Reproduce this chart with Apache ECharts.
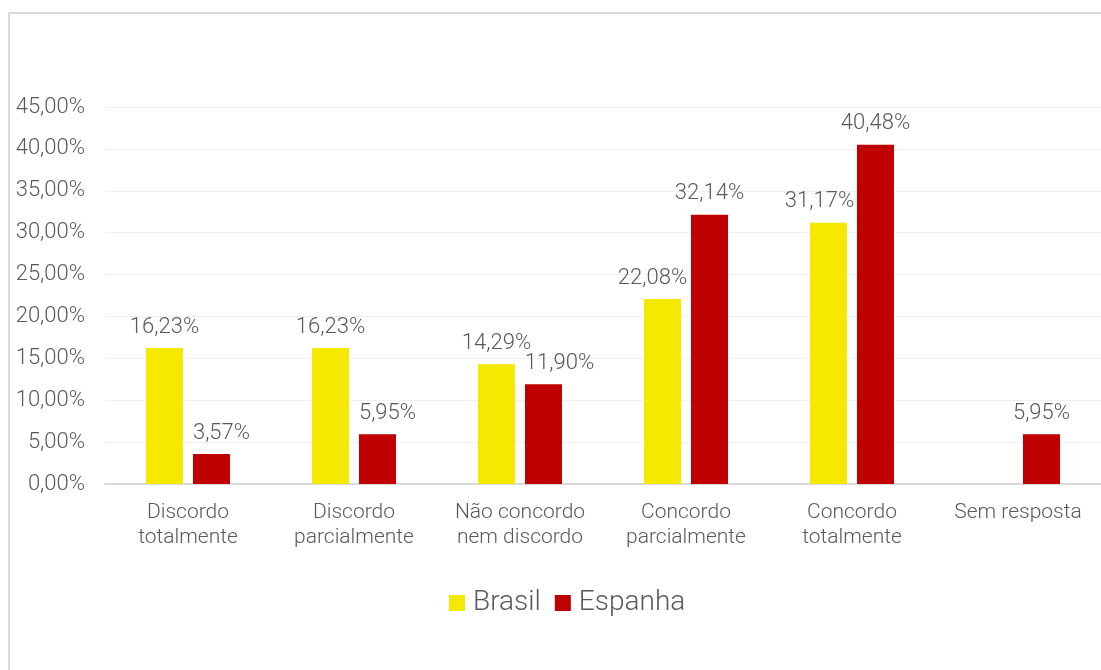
<!DOCTYPE html>
<html>
<head>
<meta charset="utf-8">
<script src="https://cdn.jsdelivr.net/npm/echarts@6/dist/echarts.min.js"></script>
<style>
  html, body { margin: 0; padding: 0; background: #ffffff; }
  #frame {
    position: absolute; left: 8px; top: 12px; width: 1101px; height: 670px;
    border-left: 2px solid #d9d9d9; border-top: 2px solid #d9d9d9;
    box-sizing: border-box;
  }
  #chart { position: absolute; left: 0; top: 0; width: 1101px; height: 670px; }
</style>
</head>
<body>
<div id="frame"></div>
<div id="chart"></div>
<script>
// Response categories (Likert scale)
const categories = [
  'Discordo\ntotalmente',
  'Discordo\nparcialmente',
  'Não concordo\nnem discordo',
  'Concordo\nparcialmente',
  'Concordo\ntotalmente',
  'Sem resposta'
];

// Share of respondents, in percent
const brasil  = [16.23, 16.23, 14.29, 22.08, 31.17, 0];
const espanha = [3.57, 5.95, 11.90, 32.14, 40.48, 5.95];

// Y axis scale (percent)
const yMin = 0, yMax = 45, yStep = 5;

// Small horizontal nudges for the value labels
const brasilLabelShift  = [0, 0, 0, -10, -9, 0];
const espanhaLabelShift = [10, 10, 16, 0, 0, 0];

const textGray = '#595959';
const font = 'Roboto, Liberation Sans, Arial, sans-serif';
const fmt = v => v.toFixed(2).replace('.', ',') + '%';

function buildData(values, shifts) {
  return values.map((v, i) => ({
    value: v,
    label: { show: v > 0, offset: [shifts[i], 0] }
  }));
}

const labelStyle = {
  position: 'top',
  distance: 10,
  color: textGray,
  fontSize: 22,
  fontWeight: 300,
  fontFamily: font,
  formatter: p => fmt(p.value)
};

const chart = echarts.init(document.getElementById('chart'), null, { renderer: 'canvas' });
chart.setOption({
  animation: false,
  textStyle: { fontFamily: font, fontWeight: 300 },
  grid: { left: 105, top: 107, width: 999, bottom: 186, containLabel: false },
  legend: {
    data: ['Brasil', 'Espanha'],
    top: 589,
    left: 449,
    padding: 0,
    itemWidth: 16,
    itemHeight: 16,
    itemGap: 14,
    icon: 'rect',
    textStyle: { color: textGray, fontSize: 28, fontWeight: 300, fontFamily: font, padding: [0, 0, 0, 3] }
  },
  xAxis: {
    type: 'category',
    data: categories,
    axisLine: { lineStyle: { color: '#d9d9d9', width: 2 } },
    axisTick: { show: false },
    axisLabel: {
      color: textGray, fontSize: 21, fontWeight: 300, fontFamily: font,
      lineHeight: 25, margin: 16, interval: 0
    }
  },
  yAxis: {
    type: 'value',
    min: yMin, max: yMax, interval: yStep,
    axisLine: { show: false },
    axisTick: { show: false },
    splitLine: { lineStyle: { color: '#efefef', width: 1 } },
    axisLabel: {
      color: textGray, fontSize: 22, fontWeight: 300, fontFamily: font, margin: 20,
      formatter: v => fmt(v)
    }
  },
  series: [
    {
      name: 'Brasil', type: 'bar',
      data: buildData(brasil, brasilLabelShift),
      barWidth: 37, barGap: '27%',
      itemStyle: { color: '#f5e900' },
      label: labelStyle
    },
    {
      name: 'Espanha', type: 'bar',
      data: buildData(espanha, espanhaLabelShift),
      barWidth: 37, barGap: '27%',
      itemStyle: { color: '#c00000' },
      label: labelStyle
    }
  ]
});
</script>
</body>
</html>
